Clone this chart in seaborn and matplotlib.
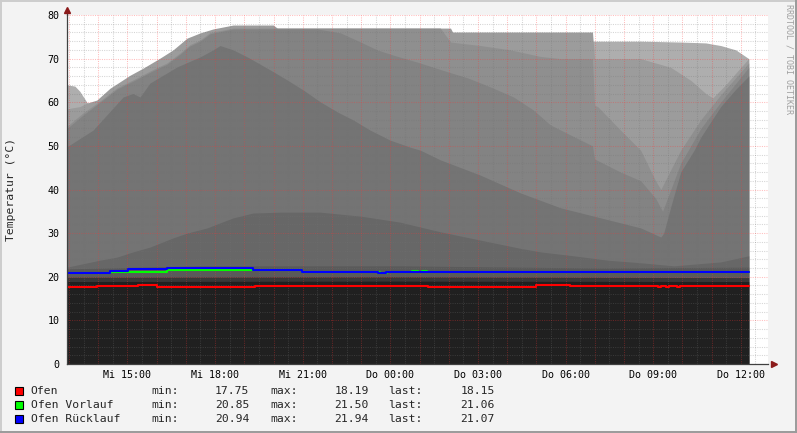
import matplotlib
matplotlib.use("Agg")
import matplotlib.pyplot as plt
from matplotlib.patches import Rectangle
from matplotlib.lines import Line2D
import seaborn as sns
import pandas as pd
import numpy as np

# time in hours counted from Mi 00:00 (Do 00:00 = 24)
x_start = 12.93
x_end = 36.93

tick_hours = [15, 18, 21, 24, 27, 30, 33, 36]
tick_labels = ['Mi 15:00', 'Mi 18:00', 'Mi 21:00', 'Do 00:00',
               'Do 03:00', 'Do 06:00', 'Do 09:00', 'Do 12:00']

# grey background areas, drawn back to front
t1_h = [12.93, 13.20, 13.37, 13.61, 13.82, 14.98, 17.49, 20.91, 26.06, 30.92, 30.99,
        32.57, 33.94, 34.80, 35.31, 35.83, 36.27]
t1_v = [64, 63.7, 62.5, 60, 59, 62, 70, 74, 74, 74, 74, 74, 73.8, 73.6, 73, 72, 70]

t2_h = [12.93, 13.37, 13.61, 13.95, 14.40, 15.09, 15.53, 16.11, 16.56, 17.04, 17.49,
        17.93, 18.62, 19.99, 20.13, 26.06, 26.13, 30.92, 30.99, 32.57, 33.60, 34.29,
        34.80, 35.04, 35.48, 36.00, 36.27]
t2_v = [58.5, 59, 59.8, 60.5, 63.2, 66.2, 67.8, 70.1, 72, 74.7, 75.9, 76.8, 77.7, 77.7,
        77, 77, 76.1, 76.1, 70, 70, 68, 65, 62, 61, 64, 68, 70]

t3_h = [12.93, 13.47, 14.06, 14.64, 15.33, 15.87, 16.35, 16.80, 17.14, 17.49, 17.83,
        18.62, 25.71, 26.06, 27.08, 28.11, 29.14, 29.83, 30.92, 30.99, 31.10, 31.88,
        32.57, 33.08, 33.26, 33.94, 34.63, 35.31, 36.27]
t3_v = [54.5, 57.5, 60.3, 63.3, 65.6, 67.5, 69, 71.3, 73.2, 74.3, 76, 77, 77, 73.8, 73,
        72, 70.5, 70, 70, 59.3, 59, 53.6, 49, 42, 40, 49, 56, 61.7, 69]

t4_h = [12.93, 13.47, 14.06, 14.64, 15.33, 15.87, 16.35, 16.80, 17.14, 17.49, 17.83,
        18.62, 21.50, 22.29, 22.98, 23.55, 24.10, 24.92, 25.95, 26.64, 27.43, 28.22,
        28.90, 29.48, 30.92, 30.99, 31.88, 32.57, 33.08, 33.32, 33.94, 34.63, 35.31, 36.27]
t4_v = [54, 57, 60, 63, 65.3, 67.2, 68.7, 71, 72.9, 74, 75.7, 76.8, 76.8, 75.9, 73.8, 72,
        70.8, 69.2, 67, 65.6, 63.5, 61.2, 58.2, 54.8, 50, 47, 44, 42, 38, 35, 46, 54, 60, 68]

t5_h = [12.93, 13.82, 14.85, 15.19, 15.43, 15.77, 16.70, 17.49, 17.93, 18.17, 18.62,
        19.10, 19.89, 20.47, 21.02, 21.60, 22.18, 22.74, 23.31, 24.00, 24.68, 25.03,
        25.71, 27.08, 28.46, 29.83, 31.20, 32.57, 33.26, 33.36, 33.60, 33.94, 34.40,
        34.63, 35.31, 35.83, 36.27]
t5_v = [49.8, 53.6, 61.2, 62, 61.2, 64.4, 68.1, 70.4, 72, 73, 72, 70.4, 67.4, 65.1, 62.8,
        60.1, 57.8, 55.9, 53.6, 51.3, 49.7, 49, 46.8, 43.3, 39.2, 35.8, 33.5, 31.2, 29.1,
        30, 36, 44, 49, 52, 59, 63, 66]

t6_h = [12.93, 14.06, 14.64, 15.19, 15.77, 16.56, 17.04, 17.73, 18.62, 19.30, 20.23,
        21.60, 22.98, 24.34, 25.71, 27.08, 28.46, 29.14, 30.27, 31.44, 32.57, 33.71,
        35.31, 36.27]
t6_v = [22.2, 23.8, 24.5, 25.7, 26.8, 28.9, 30, 31.2, 33.5, 34.6, 34.8, 34.8, 33.9, 32.5,
        30.3, 28.4, 26.5, 25.7, 24.8, 23.8, 23.2, 22.5, 23.4, 24.8]

t7_h = [12.93, 17.49, 24.34, 31.20, 36.27]
t7_v = [21.8, 22.5, 22.5, 22.0, 22.2]

t8_h = [12.93, 24.0, 36.27]
t8_v = [19.9, 20.0, 19.8]

t9_h = [12.93, 24.0, 36.27]
t9_v = [18.9, 19.0, 18.9]

area_colors = ['#AEAEAE', '#9C9C9C', '#8F8F8F', '#838383', '#747474',
               '#676767', '#5A5A5A', '#383838', '#202020']

# the three measured lines (step values)
ofen_h = [12.93, 13.95, 15.36, 16.01, 19.37, 19.61, 25.30, 28.97, 29.99, 30.16, 33.18,
          33.28, 33.45, 33.55, 33.80, 33.91, 36.27]
ofen_v = [17.75, 17.95, 18.19, 17.75, 17.90, 17.95, 17.75, 18.15, 18.05, 17.95, 17.75,
          17.95, 17.75, 17.95, 17.75, 17.95, 17.95]

vor_h = [12.93, 14.40, 16.35, 18.75, 20.98, 22.46, 23.66, 23.89, 24.75, 24.95, 25.10,
         25.27, 36.27]
vor_v = [20.85, 21.1, 21.5, 21.5, 21.0, 21.0, 20.85, 21.0, 21.25, 21.0, 21.25, 21.06, 21.06]

rue_h = [12.93, 14.40, 15.02, 16.35, 19.30, 20.98, 22.46, 23.31, 23.59, 23.86, 36.27]
rue_v = [20.94, 21.25, 21.7, 21.94, 21.55, 21.15, 21.0, 21.2, 20.94, 21.05, 21.07]

legend_names = ['Ofen', 'Ofen Vorlauf', 'Ofen Rücklauf']
legend_colors = ['#FF0000', '#00FF00', '#0000FF']
legend_min = ['17.75', '20.85', '20.94']
legend_max = ['18.19', '21.50', '21.94']
legend_last = ['18.15', '21.06', '21.07']

W, H = 797, 433
MONO = 'DejaVu Sans Mono'


def fx(x):
    return x / W


def fy(y):
    return 1 - y / H


sns.set_style('white')
plt.rcParams['font.family'] = [MONO, 'DejaVu Sans']

fig = plt.figure(figsize=(W / 100, H / 100), dpi=100, facecolor='#F3F3F3')
ax = fig.add_axes([fx(67), fy(364), 701 / W, 349 / H])
ax.set_facecolor('white')

areas = [(t1_h, t1_v), (t2_h, t2_v), (t3_h, t3_v), (t4_h, t4_v), (t5_h, t5_v),
         (t6_h, t6_v), (t7_h, t7_v), (t8_h, t8_v), (t9_h, t9_v)]
for (hh, vv), c in zip(areas, area_colors):
    ax.fill_between(hh, 0, vv, color=c, linewidth=0, zorder=1)

# dotted grid on top of the areas
dot = (0, (1, 1.2))
minor_c = (0.45, 0.45, 0.45, 0.3)
major_c = (1.0, 0.2, 0.2, 0.32)
for h in np.arange(13, 37, 0.5):
    c = major_c if h == int(h) else minor_c
    ax.axvline(h, color=c, lw=0.75, ls=dot, zorder=2)
for v in range(2, 81, 2):
    c = major_c if v % 10 == 0 else minor_c
    ax.axhline(v, color=c, lw=0.75, ls=dot, zorder=2)

lines = pd.DataFrame({
    'h': ofen_h + vor_h + rue_h,
    'v': ofen_v + vor_v + rue_v,
    'name': [legend_names[0]] * len(ofen_h) + [legend_names[1]] * len(vor_h)
            + [legend_names[2]] * len(rue_h),
})
for name, c in zip(legend_names, legend_colors):
    sub = lines[lines['name'] == name]
    sns.lineplot(data=sub, x='h', y='v', color=c, linewidth=1.5, drawstyle='steps-post',
                 estimator=None, sort=False, legend=False, ax=ax, zorder=5)

ax.set_xlim(x_start, x_end)
ax.set_ylim(0, 80)
ax.set_xlabel('')
ax.set_ylabel('')
ax.set_xticks(tick_hours)
ax.set_xticklabels(tick_labels)
ax.set_xticks(np.arange(13, 37), minor=True)
ax.set_yticks(range(0, 81, 10))
ax.tick_params(axis='both', which='both', direction='out', length=2.5, width=0.72,
               color='#e07070', labelsize=7.2, labelcolor='black')
ax.tick_params(axis='x', which='major', pad=1.8)
ax.tick_params(axis='y', which='major', pad=3.0)
ax.tick_params(axis='y', which='minor', length=0)
for lab in ax.get_xticklabels() + ax.get_yticklabels():
    lab.set_family(MONO)

for s in ['top', 'right']:
    ax.spines[s].set_visible(False)
for s in ['left', 'bottom']:
    ax.spines[s].set_color('#404040')
    ax.spines[s].set_linewidth(0.9)
    ax.spines[s].set_zorder(6)

# axis arrows
ax.plot([0, 0], [1, 1.012], transform=ax.transAxes, color='#404040', lw=0.9, clip_on=False)
ax.plot([0], [1.015], transform=ax.transAxes, marker='^', ms=4.5, color='#8B1A1A',
        mec='#8B1A1A', clip_on=False)
ax.plot([1.008], [0], transform=ax.transAxes, marker='>', ms=4.5, color='#8B1A1A',
        mec='#8B1A1A', clip_on=False)

fig.text(fx(11), fy(189.5), 'Temperatur (°C)', rotation=90, ha='center', va='center',
         family=MONO, size=8.2)
fig.text(fx(789.5), fy(4), 'RRDTOOL / TOBI OETIKER', rotation=270, ha='center', va='top',
         family=MONO, size=6, color='#a0a0a0')

# legend block
rows_y = [391, 405, 418.5]
for i in range(3):
    y = rows_y[i]
    fig.add_artist(Rectangle((fx(15), fy(y + 4)), 8 / W, 8 / H, transform=fig.transFigure,
                             fc=legend_colors[i], ec='black', lw=0.8))
    fig.text(fx(30.5), fy(y), legend_names[i], ha='left', va='center', family=MONO, size=8.2)
    fig.text(fx(151.5), fy(y), 'min:', ha='left', va='center', family=MONO, size=8.2)
    fig.text(fx(249.5), fy(y), legend_min[i], ha='right', va='center', family=MONO, size=8.2)
    fig.text(fx(270.5), fy(y), 'max:', ha='left', va='center', family=MONO, size=8.2)
    fig.text(fx(368.5), fy(y), legend_max[i], ha='right', va='center', family=MONO, size=8.2)
    fig.text(fx(388.5), fy(y), 'last:', ha='left', va='center', family=MONO, size=8.2)
    fig.text(fx(494.5), fy(y), legend_last[i], ha='right', va='center', family=MONO, size=8.2)

# canvas frame
fig.add_artist(Line2D([0, 1], [fy(0.5), fy(0.5)], transform=fig.transFigure, color='#cccccc', lw=1.4))
fig.add_artist(Line2D([fx(0.5), fx(0.5)], [0, 1], transform=fig.transFigure, color='#cccccc', lw=1.4))
fig.add_artist(Line2D([0, 1], [fy(432), fy(432)], transform=fig.transFigure, color='#9a9a9a', lw=1.4))
fig.add_artist(Line2D([fx(796), fx(796)], [0, 1], transform=fig.transFigure, color='#9a9a9a', lw=1.4))

fig.savefig('out.png', dpi=100, facecolor=fig.get_facecolor())
